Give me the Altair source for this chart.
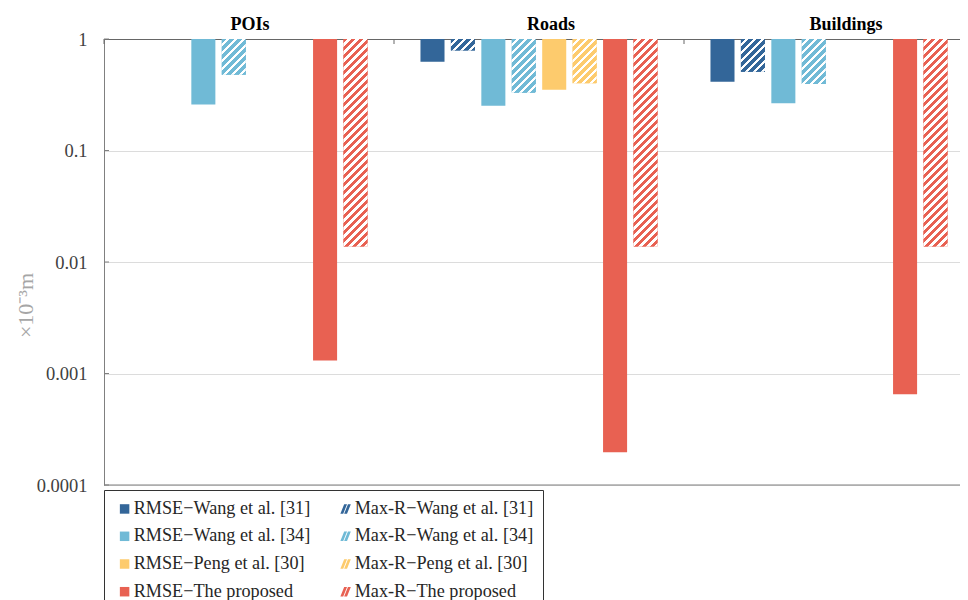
import math
import altair as alt
import pandas as pd

# ---------------- data ----------------
groups = ["POIs", "Roads", "Buildings"]
series = [
    "RMSE−Wang et al. [31]", "Max-R−Wang et al. [31]",
    "RMSE−Wang et al. [34]", "Max-R−Wang et al. [34]",
    "RMSE−Peng et al. [30]", "Max-R−Peng et al. [30]",
    "RMSE−The proposed", "Max-R−The proposed",
]
colors = ["#336699", "#336699", "#70bad6", "#70bad6",
          "#fdcb6d", "#fdcb6d", "#e86152", "#e86152"]
hatched = [False, True, False, True, False, True, False, True]

pois_values = [None, None, 0.259, 0.478, None, None, 0.00131, 0.0138]
roads_values = [0.625, 0.789, 0.252, 0.330, 0.351, 0.402, 0.000197, 0.0138]
buildings_values = [0.413, 0.508, 0.266, 0.394, None, None, 0.000653, 0.0138]

y_ticks = [1, 0.1, 0.01, 0.001, 0.0001]
group_label_shift = [1, 12, 17]

# ---------------- layout / style ----------------
SERIF = "Liberation Serif"
PLOT_W = 870
PLOT_H = 446
PI, PO = 0.21, 0.87
GROUP_W = PLOT_W / 3
STEP = GROUP_W / (8 - PI + 2 * PO)
BAR_W = STEP * (1 - PI)
DECADE = PLOT_H / 4

rows = []
for g, vals in zip(groups, [pois_values, roads_values, buildings_values]):
    for s, v in zip(series, vals):
        if v is not None:
            rows.append({"group": g, "series": s, "value": v, "top": 1.0})
df = pd.DataFrame(rows)


def hatch_gradient(color, w, h, period=8.0, frac=0.55):
    """Diagonal '/' stripes as a hard-stop linear gradient (bbox units)."""
    c = (w + h) * w * h / (w * w + h * h)
    n = (w + h) / period
    stops = []
    k = 0
    while k / n < 1:
        a = k / n
        b = min((k + frac) / n, 1.0)
        d = min((k + 1) / n, 1.0)
        stops += [{"offset": a, "color": color}, {"offset": b, "color": color},
                  {"offset": b, "color": "#ffffff"}, {"offset": d, "color": "#ffffff"}]
        k += 1
    return {"gradient": "linear", "x1": 0, "y1": 0,
            "x2": c / h, "y2": c / w, "stops": stops}


def x_enc(band_position=None):
    kw = {}
    if band_position is not None:
        kw["bandPosition"] = band_position
    return alt.X(
        "group:N", sort=groups,
        scale=alt.Scale(domain=groups, paddingInner=0, paddingOuter=0),
        axis=alt.Axis(orient="top", title=None, labels=False, ticks=False, tickSize=0,
                      domainColor="#666666", domainWidth=1, grid=False),
        **kw,
    )


xoff_enc = alt.XOffset("series:N", sort=series,
                       scale=alt.Scale(domain=series, paddingInner=PI, paddingOuter=PO))

y_enc = alt.Y(
    "value:Q",
    scale=alt.Scale(type="log", domain=[0.0001, 1], nice=False),
    axis=alt.Axis(values=y_ticks, format="~g", title="×10⁻³m",
                  labelFont=SERIF, labelFontSize=18.5, labelColor="#404040",
                  labelPadding=17, ticks=False, tickSize=0,
                  domainColor="#808080", grid=True, gridColor="#dcdcdc",
                  titleFont=SERIF, titleFontSize=22, titleFontWeight="normal",
                  titleColor="#a6a6a6", titleX=-79, titleY=266,
                  titleAngle=270, titleAlign="center", titleBaseline="middle"),
)

LEG = alt.Legend(title=None, orient="none", legendX=0, legendY=451, columns=2,
                 direction="horizontal",
                 labelFont=SERIF, labelFontSize=18.2, labelColor="#262626",
                 labelLimit=500, symbolSize=90, symbolStrokeWidth=0,
                 symbolOffset=2, labelOffset=0, columnPadding=24, rowPadding=8.7,
                 padding=9.5, strokeColor="#333333", fillColor="#ffffff")

color_enc = alt.Color("series:N", sort=series,
                      scale=alt.Scale(domain=series, range=colors), legend=LEG)

hatch_path = ("M-1.1,1 L-0.3,-1 L0.3,-1 L-0.5,1 Z "
              "M-0.3,1 L0.5,-1 L1.1,-1 L0.3,1 Z")
shapes = ["square" if not h else hatch_path for h in hatched]
shape_enc = alt.Shape("series:N", sort=series,
                      scale=alt.Scale(domain=series, range=shapes), legend=LEG)

# base bars (solid)
bars = alt.Chart(df).mark_bar().encode(
    x=x_enc(), xOffset=xoff_enc, y=y_enc, y2=alt.Y2("top:Q"), color=color_enc
)

layers = [bars]

# hatched overlays
for s, col, h in zip(series, colors, hatched):
    if not h:
        continue
    for g, vals in zip(groups, [pois_values, roads_values, buildings_values]):
        v = vals[series.index(s)]
        if v is None:
            continue
        hpx = -math.log10(v) * DECADE
        grad = hatch_gradient(col, BAR_W, hpx)
        layers.append(
            alt.Chart(df).transform_filter(
                (alt.datum.group == g) & (alt.datum.series == s)
            ).mark_bar(color=grad).encode(
                x=x_enc(), xOffset=xoff_enc, y=y_enc, y2=alt.Y2("top:Q")
            )
        )

# legend carrier (no visible marks)
legend_layer = alt.Chart(df).transform_filter("datum.value < 0").mark_point(
    filled=True, opacity=1
).encode(x=x_enc(), y=y_enc, color=color_enc, shape=shape_enc)
layers.append(legend_layer)

# bottom frame line
bottom = alt.Chart(pd.DataFrame({"value": [0.0001]})).mark_rule(
    color="#808080", strokeWidth=1.2
).encode(y=y_enc)
layers.append(bottom)

# inward ticks on left axis
lticks = alt.Chart(pd.DataFrame({"value": y_ticks})).mark_rule(
    color="#808080"
).encode(y=y_enc, x=alt.value(0), x2=alt.value(5))
layers.append(lticks)

# inward ticks at group boundaries on top axis
tticks = alt.Chart(pd.DataFrame({"group": groups})).mark_rule(
    color="#666666"
).encode(x=x_enc(0), y=alt.value(0), y2=alt.value(5))
layers.append(tticks)

# group titles above the plot
for g, shift in zip(groups, group_label_shift):
    layers.append(
        alt.Chart(pd.DataFrame({"group": [g]})).mark_text(
            dx=shift, baseline="alphabetic", align="center", font=SERIF,
            fontSize=18, fontWeight="bold", color="#000000"
        ).encode(x=x_enc(), y=alt.value(-9), text="group:N")
    )

chart = alt.layer(*layers).properties(
    width=PLOT_W, height=PLOT_H,
    autosize=alt.AutoSizeParams(type="none"),
    padding={"left": 96, "top": 31, "right": -14, "bottom": 115},
    background="#ffffff",
).configure_view(strokeWidth=0).configure_axis(
    labelFont=SERIF, titleFont=SERIF
).configure_legend(labelFont=SERIF)

chart.save("out.html", embed_options={"renderer": "svg", "actions": False})
